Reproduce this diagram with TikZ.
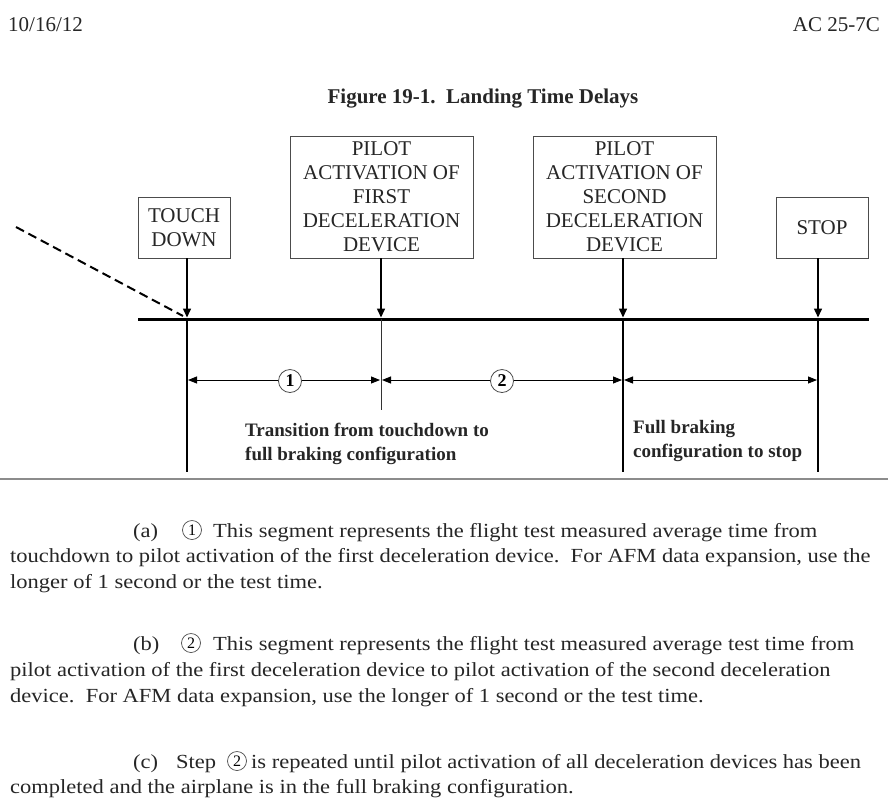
\documentclass[tikz,border=0pt]{standalone}
\usepackage{fontspec}
\setmainfont{Liberation Serif}
\usetikzlibrary{arrows.meta}
\newcommand\fsz[2]{\fontsize{#1}{#2}\selectfont}
\newcommand\hsc[1]{\scalebox{1.125}[1]{#1}}
\tikzset{
  box/.style={draw=black!70, line width=0.9pt, align=center, font=\fsz{21pt}{24pt}, inner sep=0pt, text=black!85},
  conn/.style={line width=1.5pt, -{Triangle[length=9pt,width=8pt]}},
  vline/.style={line width=1.5pt},
  mainline/.style={line width=3pt},
  dim/.style={line width=0.9pt, {Triangle[length=9pt,width=7pt]}-{Triangle[length=9pt,width=7pt]}},
  num/.style={circle, draw=black!70, line width=0.8pt, fill=white, inner sep=0pt, minimum size=23pt, font=\fsz{18pt}{20pt}\bfseries},
  pnum/.style={circle, draw=black!70, line width=0.7pt, inner sep=0pt, minimum size=19pt, font=\fsz{16pt}{18pt}},
  lbl/.style={anchor=base west, inner sep=0pt, font=\fsz{19pt}{24pt}\bfseries, text=black!85},
  body/.style={anchor=base west, inner sep=0pt, font=\fsz{20pt}{27pt}, text=black!85},
  hdr/.style={inner sep=0pt, font=\fsz{21pt}{24pt}, text=black!85},
}
\begin{document}
\begin{tikzpicture}[x=1pt,y=-1pt]
\useasboundingbox[fill=white] (0,0) rectangle (888,804);
% header
\node[hdr, anchor=base west] (date) at (8,31) {10/16/12};
\node[hdr, anchor=base east] (ac) at (880,31) {AC 25-7C};
\node[hdr, anchor=base, font=\fsz{21pt}{24pt}\bfseries] (title) at (483,103) {Figure 19-1.\ \ Landing Time Delays};
% boxes
\node[box, minimum width=92pt, minimum height=61pt] (td) at (184,227.5) {TOUCH\\DOWN};
\node[box, minimum width=183pt, minimum height=122pt] (f1) at (381.5,197) {PILOT\\ACTIVATION OF\\FIRST\\DECELERATION\\DEVICE};
\node[box, minimum width=183pt, minimum height=122pt] (f2) at (624.5,197) {PILOT\\ACTIVATION OF\\SECOND\\DECELERATION\\DEVICE};
\node[box, minimum width=92pt, minimum height=61pt] (st) at (822,227.5) {STOP};
% main line
\coordinate (mL) at (138,319);
\coordinate (mR) at (869,319);
\coordinate (m1) at (187,319);
\coordinate (m2) at (381,319);
\coordinate (m3) at (623,319);
\coordinate (m4) at (818,319);
\coordinate (b1) at (187,472);
\coordinate (b2) at (381,410);
\coordinate (b3) at (623,472);
\coordinate (b4) at (818,472);
\draw[mainline] (mL) -- (mR);
\draw[conn, shorten >=1.5pt] (td.south -| m1) -- (m1);
\draw[conn, shorten >=1.5pt] (f1.south -| m2) -- (m2);
\draw[conn, shorten >=1.5pt] (f2.south -| m3) -- (m3);
\draw[conn, shorten >=1.5pt] (st.south -| m4) -- (m4);
\draw[vline] (m1) -- (b1);
\draw[vline, line width=1pt, black!80] (m2) -- (b2);
\draw[vline] (m3) -- (b3);
\draw[vline] (m4) -- (b4);
% dashed approach
\coordinate (ds) at (16,227);
\draw[line width=2pt, dash pattern=on 9pt off 5pt] (ds) -- (183,316);
% dimension lines
\coordinate (d1) at (188,380);
\coordinate (d2) at (380,380);
\coordinate (d3) at (382,380);
\coordinate (d4) at (622,380);
\coordinate (d5) at (624,380);
\coordinate (d6) at (817,380);
\draw[dim] (d1) -- (d2);
\draw[dim] (d3) -- (d4);
\draw[dim] (d5) -- (d6);
\node[num] (n1) at (290,381) {1};
\node[num] (n2) at (502,381) {2};
% labels
\node[lbl] (t1) at (245,436) {Transition from touchdown to};
\node[lbl] (t2) at (245,460) {full braking configuration};
\node[lbl] (t3) at (633,433) {Full braking};
\node[lbl] (t4) at (633,457) {configuration to stop};
% rule
\coordinate (rL) at (0,479);
\coordinate (rR) at (888,479);
\draw[line width=2pt, black!45] (rL) -- (rR);
% paragraph (a)
\node[body] (pa) at (133,537) {\hsc{(a)}};
\node[pnum] (ca) at (192,530) {1};
\node[body] (pa1) at (213,537) {\hsc{This segment represents the flight test measured average time from}};
\node[body] (pa2) at (10,562) {\hsc{touchdown to pilot activation of the first deceleration device.\ \ For AFM data expansion, use the}};
\node[body] (pa3) at (10,588) {\hsc{longer of 1 second or the test time.}};
% paragraph (b)
\node[body] (pb) at (133,650) {\hsc{(b)}};
\node[pnum] (cb) at (191,643) {2};
\node[body] (pb1) at (213,650) {\hsc{This segment represents the flight test measured average test time from}};
\node[body] (pb2) at (10,676) {\hsc{pilot activation of the first deceleration device to pilot activation of the second deceleration}};
\node[body] (pb3) at (10,702) {\hsc{device.\ \ For AFM data expansion, use the longer of 1 second or the test time.}};
% paragraph (c)
\node[body] (pc) at (133,768) {\hsc{(c)}};
\node[body] (pc1) at (176,768) {\hsc{Step}};
\node[pnum] (cc) at (237,761) {2};
\node[body] (pc2) at (251,768) {\hsc{is repeated until pilot activation of all deceleration devices has been}};
\node[body] (pc3) at (10,793) {\hsc{completed and the airplane is in the full braking configuration.}};
\end{tikzpicture}
\end{document}
